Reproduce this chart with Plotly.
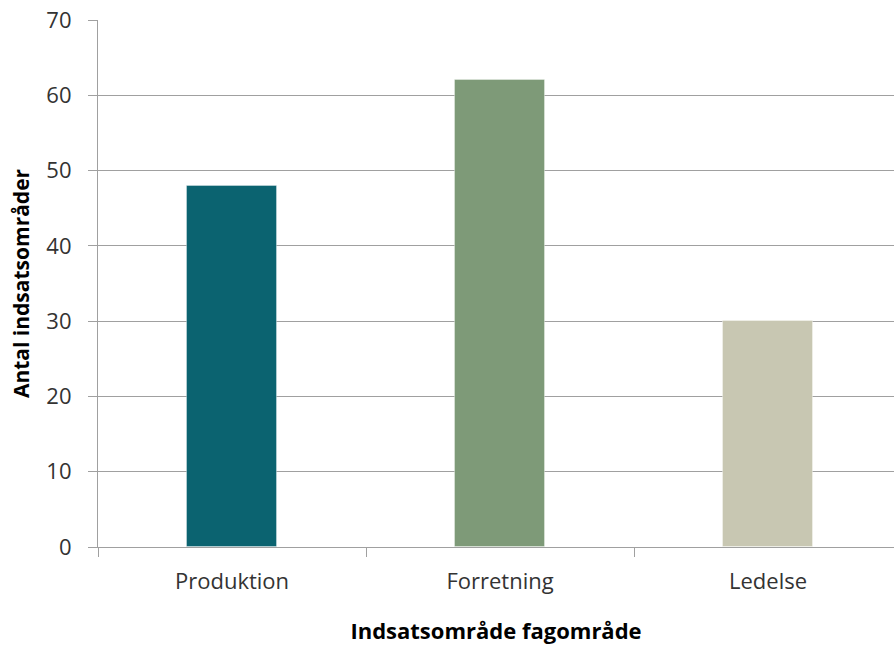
import plotly.graph_objects as go

categories = ["Produktion", "Forretning", "Ledelse"]
values = [48, 62, 30]
colors = ["#0B6370", "#7E9A78", "#C8C7B2"]
y_ticks = [0, 10, 20, 30, 40, 50, 60, 70]

fig = go.Figure()
fig.add_trace(go.Bar(
    x=categories, y=values, width=0.336,
    marker=dict(color=colors, line=dict(color="rgba(255,255,255,0.35)", width=1)),
))

FONT = "Open Sans, Noto Sans, sans-serif"
fig.update_layout(
    width=894, height=646,
    margin=dict(l=98, r=0, t=19.5, b=99),
    paper_bgcolor="white", plot_bgcolor="white",
    showlegend=False, bargap=0,
    font=dict(family=FONT, color="#333333"),
)
fig.update_xaxes(
    type="category", range=[-0.5, 2.47],
    tickson="boundaries", ticks="outside", ticklen=9, tickcolor="#A0A0A0", tickwidth=1.2,
    showline=True, linecolor="#A0A0A0", linewidth=1.2,
    showgrid=False,
    tickfont=dict(size=22, color="#333333"), ticklabelstandoff=14,
    title=dict(text="<b>Indsatsområde fagområde</b>", font=dict(size=22, color="#000000"), standoff=30),
)
fig.update_yaxes(
    range=[0, 70], tickvals=y_ticks,
    ticks="outside", ticklen=9, tickcolor="#A0A0A0", tickwidth=1.2,
    showline=True, linecolor="#A0A0A0", linewidth=1.2,
    showgrid=True, gridcolor="#A0A0A0", gridwidth=1.2, zeroline=False,
    tickfont=dict(size=22, color="#333333"), ticklabelstandoff=12,
    title=dict(text="<b>Antal indsatsområder</b>", font=dict(size=21, color="#000000"), standoff=10),
)
fig.write_html("out.html")
